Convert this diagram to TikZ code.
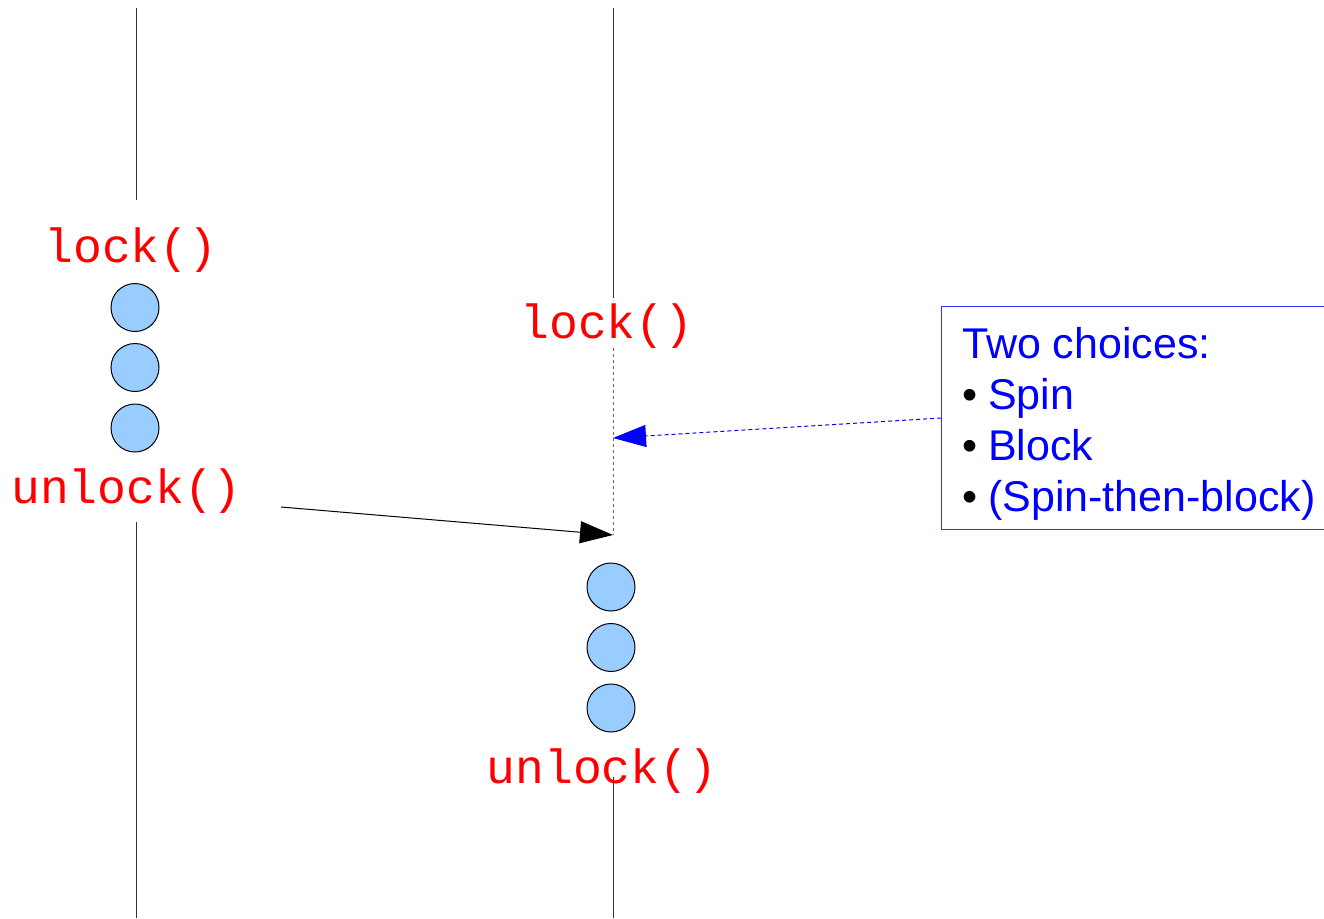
\documentclass[tikz,border=0pt]{standalone}
\usepackage{fontspec}
\setmainfont{Liberation Sans}
\newfontfamily\codefont{Liberation Mono}
\usetikzlibrary{arrows.meta}
\definecolor{codered}{HTML}{FF0000}
\definecolor{noteblue}{HTML}{0000FF}
\definecolor{boxblue}{HTML}{3333FF}
\definecolor{tokenfill}{HTML}{99CCFF}
\definecolor{lifeline}{HTML}{333333}
\definecolor{waitgray}{HTML}{666666}
\newcommand{\choiceitem}[1]{\makebox[26pt][l]{\textcolor{black}{\textbullet}}#1}
\tikzset{
  lifeline/.style={draw=lifeline, line width=1pt},
  waiting/.style={draw=waitgray, line width=1pt, dash pattern=on 3pt off 3pt},
  token/.style={circle, draw=black, line width=1pt, fill=tokenfill, minimum size=48pt, inner sep=0pt},
  call/.style={text=codered, font=\codefont\fontsize{48}{48}\selectfont, inner sep=0pt, anchor=base},
  handoff/.style={draw=black, line width=1pt, -{Triangle[length=33pt,width=22pt]}},
  hint/.style={draw=noteblue, line width=1pt, dash pattern=on 4pt off 3pt, -{Triangle[length=33pt,width=22pt,fill=noteblue]}},
  notebox/.style={draw=boxblue, line width=1pt, minimum width=384pt, minimum height=223pt, inner sep=0pt, anchor=north west},
  notetext/.style={text=noteblue, font=\fontsize{43}{51}\selectfont, inner sep=0pt, anchor=base west}
}
\begin{document}
\begin{tikzpicture}[x=1pt, y=-1pt]
\useasboundingbox (0,0) rectangle (1324,918);

% thread A lifeline
\coordinate (a0) at (136,8);
\coordinate (a1) at (136,200);
\coordinate (a2) at (136,522);
\coordinate (a3) at (136,918);
\draw[lifeline] (a0) -- (a1);
\draw[lifeline] (a2) -- (a3);

% thread B lifeline, dotted while it waits for the lock
\coordinate (b0) at (613,8);
\coordinate (b1) at (613,298);
\coordinate (b2) at (613,348);
\coordinate (b3) at (613,535);
\coordinate (b4) at (613,777);
\coordinate (b5) at (613,918);
\draw[lifeline] (b0) -- (b1);
\draw[waiting] (b2) -- (b3);
\draw[lifeline] (b4) -- (b5);

% thread A critical section
\node[call] (lockA) at (131,262) {lock()};
\node[token] (a-t1) at (135,307.5) {};
\node[token] (a-t2) at (135,367.5) {};
\node[token] (a-t3) at (135,428) {};
\node[call] (unlockA) at (126.5,503) {unlock()};

% thread B critical section
\node[call] (lockB) at (607,338) {lock()};
\node[token] (b-t1) at (611,587) {};
\node[token] (b-t2) at (611,647.5) {};
\node[token] (b-t3) at (611,708) {};
\node[call] (unlockB) at (602,783) {unlock()};

% lock hand-off from A to B
\coordinate (release) at (281,507);
\draw[handoff] (release) -- (b3);

% note on how B waits
\node[notebox] (note) at (941,306) {};
\node[notetext] (choices) at (962,358) {%
  \begin{tabular}[t]{@{}l@{}}
  Two choices:\\
  \choiceitem{Spin}\\
  \choiceitem{Block}\\
  \choiceitem{(Spin-then-block)}
  \end{tabular}};
\coordinate (waitpoint) at (613,438);
\draw[hint] (note.west) -- (waitpoint);
\end{tikzpicture}
\end{document}
